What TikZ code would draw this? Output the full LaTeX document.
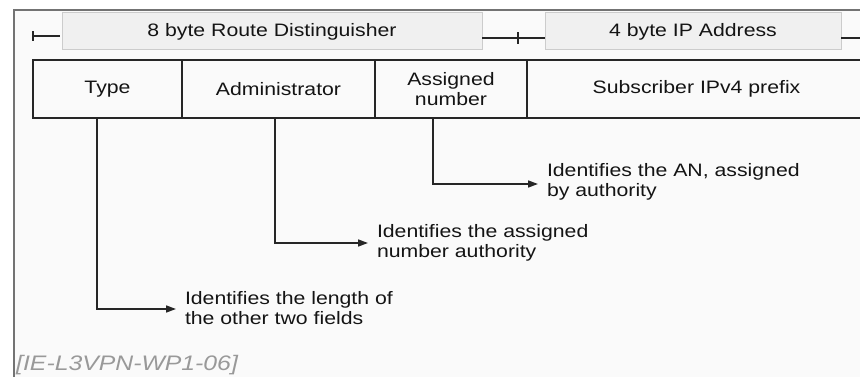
\documentclass[tikz,border=0pt]{standalone}
\usepackage{fontspec}
\setmainfont{Liberation Sans}[FakeStretch=1.18]
\usetikzlibrary{arrows.meta}
\begin{document}
\begin{tikzpicture}[x=1pt,y=-1pt,
  every node/.style={font=\fontsize{18}{20}\selectfont, text=black!92},
  cell/.style={draw=black!85, line width=2.4pt, inner sep=0pt, outer sep=0pt,
               minimum height=58pt, align=center},
  hdr/.style={fill=black!6, draw=black!20, line width=1pt, inner sep=0pt,
              outer sep=0pt, minimum height=37pt},
  dim/.style={draw=black!85, line width=1.9pt},
  frame/.style={draw=black!55, line width=2pt},
  note/.style={anchor=west, align=left, inner sep=0pt, outer sep=0pt},
  conn/.style={draw=black!85, line width=1.6pt,
               -{Triangle[length=10pt,width=7pt]}, shorten >=9pt}
]
\useasboundingbox (0,0) rectangle (860,377);
\clip (0,0) rectangle (860,377);

% page and frame
\fill[white] (0,0) rectangle (860,377);
\fill[black!2] (14,10) rectangle (866,380);
\draw[frame] (14,380) -- (14,10) -- (866,10);

% header labels
\node[hdr, minimum width=420pt] (rd) at (272,31.5) {8 byte Route Distinguisher};
\node[hdr, minimum width=296pt] (ip) at (693,31.5) {4 byte IP Address};

% header dimension lines
\coordinate (lend) at (33,36);
\coordinate (mid)  at (518,38);
\coordinate (rend) at (866,38);
\draw[dim] (lend) -- (lend -| 60,0);
\draw[dim] ([yshift=-5pt]lend) -- ([yshift=5pt]lend);
\draw[dim] (rd.east |- mid) -- (ip.west |- mid);
\draw[dim] ([yshift=-6pt]mid) -- ([yshift=6pt]mid);
\draw[dim] (ip.east |- rend) -- (rend);

% field row
\node[cell, minimum width=149pt] (type)   at (107.5,89) {Type};
\node[cell, minimum width=193pt] (admin)  at (278.5,89) {Administrator};
\node[cell, minimum width=152pt] (an)     at (451,89)   {Assigned\\number};
\node[cell, minimum width=339pt] (prefix) at (696.5,89) {Subscriber IPv4 prefix};

% descriptions
\node[note] (dan)   at (547,182) {Identifies the AN, assigned\\by authority};
\node[note] (dadm)  at (377,243) {Identifies the assigned\\number authority};
\node[note] (dtype) at (185,308) {Identifies the length of\\the other two fields};

% connectors
\draw[conn] ([xshift=-18pt]an.south)    |- ([yshift=-2pt]dan.west);
\draw[conn] ([xshift=-3.5pt]admin.south) |- (dadm.west);
\draw[conn] ([xshift=-10.5pt]type.south) |- ([yshift=-1pt]dtype.west);

% figure tag
\node[anchor=west, inner sep=0pt, font=\fontsize{21}{22}\selectfont\itshape,
      text=black!40] (tag) at (16,365) {[IE-L3VPN-WP1-06]};
\end{tikzpicture}
\end{document}
